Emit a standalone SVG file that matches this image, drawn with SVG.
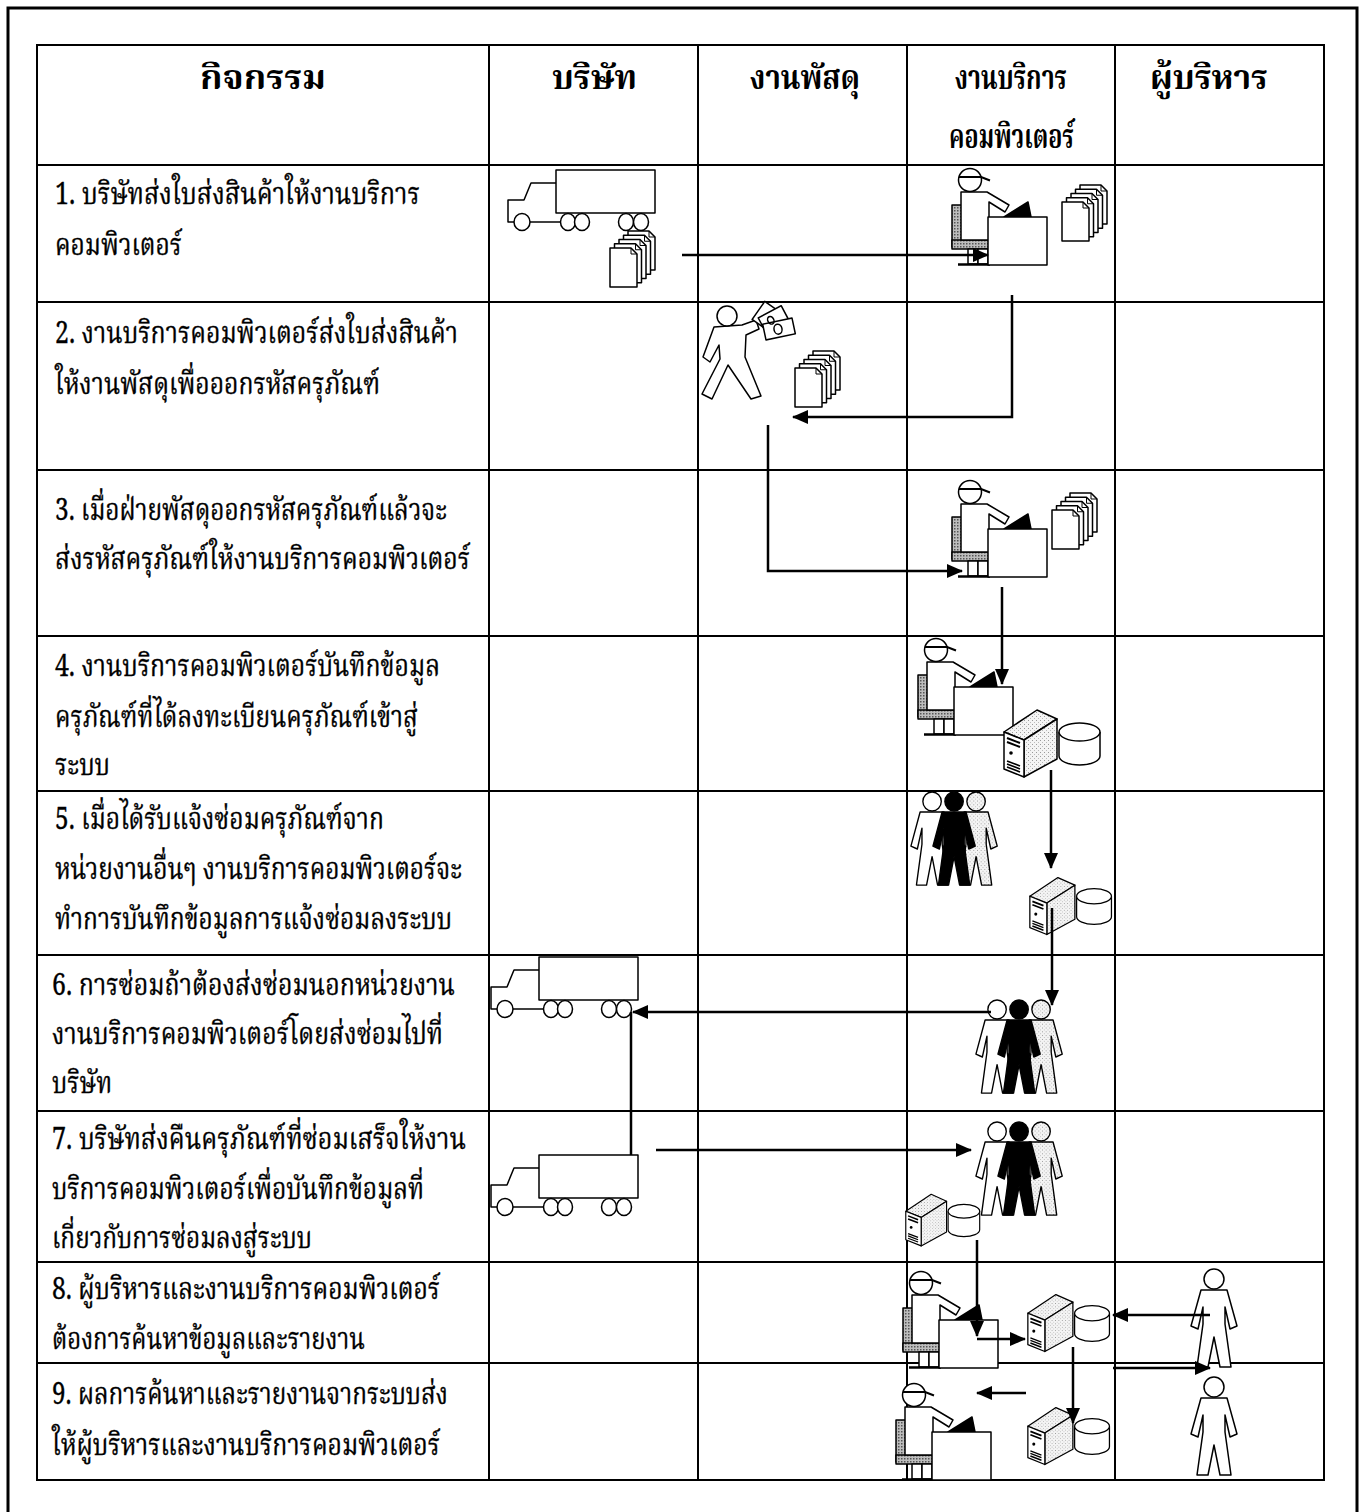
<svg xmlns="http://www.w3.org/2000/svg" xmlns:xlink="http://www.w3.org/1999/xlink" width="1363" height="1512" viewBox="0 0 1363 1512">
  <style>
    .frame { fill: none; stroke: #000; stroke-width: 3; }
    .grid { fill: none; stroke: #000; stroke-width: 2; }
    .hd { font-family: "Noto Serif Thai", "Noto Sans Thai", "Loma", "Garuda", "DejaVu Sans", sans-serif; font-size: 33px; font-weight: bold; fill: #000; }
    .tx { font-family: "Noto Serif Thai", "Noto Sans Thai", "Loma", "Garuda", "DejaVu Serif", serif; font-size: 30px; fill: #000; stroke: #000; stroke-width: 0.35; }
    .ln { fill: none; stroke: #000; stroke-width: 2.5; }
    .ic { stroke: #000; stroke-width: 1.5; stroke-linejoin: round; }
  </style>
  <defs>
    <pattern id="chair" width="3" height="3" patternUnits="userSpaceOnUse">
      <rect width="3" height="3" fill="#bdbdbd"/>
      <rect width="1.5" height="1.5" fill="#555"/>
    </pattern>
    <pattern id="stip" width="4" height="4" patternUnits="userSpaceOnUse">
      <rect width="4" height="4" fill="#f4f4f4"/>
      <rect x="1" y="1" width="1" height="1" fill="#999"/>
      <rect x="3" y="3" width="1" height="1" fill="#bbb"/>
    </pattern>
    <marker id="ah" viewBox="0 0 16 14" refX="15" refY="7" markerWidth="16" markerHeight="14" markerUnits="userSpaceOnUse" orient="auto">
      <path d="M0,0 L16,7 L0,14 Z" fill="#000"/>
    </marker>

    <!-- delivery truck, 150 x 60 -->
    <g id="truck" class="ic" fill="#fff">
      <rect x="49" y="0" width="99" height="43"/>
      <path d="M49,13 H24 L17,30 H1 V52 H8" fill="none"/>
      <path d="M22,52 H54" fill="none"/>
      <ellipse cx="15" cy="52" rx="8" ry="8.5"/>
      <ellipse cx="61" cy="52" rx="7.5" ry="8.5"/>
      <ellipse cx="75" cy="52" rx="7.5" ry="8.5"/>
      <ellipse cx="119" cy="52" rx="7.5" ry="8.5"/>
      <ellipse cx="134" cy="52" rx="7.5" ry="8.5"/>
    </g>

    <!-- single sheet with folded corner -->
    <g id="page" class="ic" fill="#fff">
      <path d="M0,0 H21 L27,6 V39 H0 Z"/>
      <path d="M21,0 V6 H27" fill="none" stroke-width="1"/>
    </g>
    <!-- stack of five sheets -->
    <g id="docs">
      <use xlink:href="#page" transform="translate(18,0)"/>
      <use xlink:href="#page" transform="translate(13.5,4.25)"/>
      <use xlink:href="#page" transform="translate(9,8.5)"/>
      <use xlink:href="#page" transform="translate(4.5,12.75)"/>
      <use xlink:href="#page" transform="translate(0,17)"/>
    </g>

    <!-- operator seated at a computer desk, 100 x 98 -->
    <g id="clerk" class="ic">
      <rect x="4" y="37" width="10" height="42" fill="url(#chair)"/>
      <rect x="4" y="72" width="38" height="9" fill="url(#chair)"/>
      <path d="M13,24 H39 L61,37 L57,44 L41,34 V72 H13 Z" fill="#fff"/>
      <rect x="20" y="81" width="10" height="15" fill="#fff"/>
      <rect x="30" y="81" width="10" height="15" fill="#fff"/>
      <path d="M10,96.5 H42" fill="none" stroke-width="2.5"/>
      <circle cx="22" cy="12" r="11.5" fill="#fff"/>
      <path d="M11,9 H33 L42,12.5" fill="none" stroke-width="2"/>
      <path d="M56,49 L80,34 L83,49 Z" fill="#000"/>
      <rect x="40" y="49" width="59" height="48" fill="#fff"/>
    </g>

    <!-- walking man holding banknotes -->
    <g id="walker" class="ic">
      <path d="M14,22 L42,20 L56,15 L59,24 L46,30 L45,52 L61,91 L51,94 L28,60 L12,94 L2,89 L20,54 L19,40 L10,57 L3,52 Z" fill="#fff"/>
      <circle cx="27" cy="11" r="10" fill="#fff"/>
      <rect x="54" y="2" width="22" height="16" fill="#fff" transform="rotate(-55 65 10)"/>
      <rect x="60" y="6" width="26" height="15" fill="#fff" transform="rotate(-28 73 13)"/>
      <rect x="64" y="16" width="30" height="16" fill="#fff" transform="rotate(-12 79 24)"/>
      <ellipse cx="78" cy="24" rx="4" ry="5" fill="none" transform="rotate(-12 79 24)"/>
      <ellipse cx="70" cy="14" rx="3" ry="4" fill="none" transform="rotate(-28 73 13)"/>
    </g>

    <!-- tower server beside a database cylinder, 98 x 70 -->
    <g id="server" class="ic">
      <path d="M1,25 L34,3 L54,12 L21,33 Z" fill="url(#stip)"/>
      <path d="M21,33 L54,12 V52 L21,70 Z" fill="url(#stip)"/>
      <path d="M1,25 L21,33 V70 L1,62 Z" fill="#fff"/>
      <path d="M4,31 L17,36 M4,35 L17,40" fill="none" stroke-width="2"/>
      <circle cx="8" cy="46" r="1.8" fill="#000" stroke="none"/>
      <path d="M4,54 L17,59 M4,57 L17,62 M4,60 L17,65" fill="none" stroke-width="1.6"/>
      <path d="M56,25 V49 A20.5,9 0 0 0 97,49 V25" fill="#fff"/>
      <ellipse cx="76.5" cy="25" rx="20.5" ry="9" fill="#fff"/>
    </g>

    <!-- standing figure, 48 x 98 -->
    <path id="body" d="M11,21 H37 L47,57 L40,60 L35,38 L35,55 L41,98 L30,98 L24,68 L18,98 L7,98 L13,55 L13,38 L8,60 L1,57 Z"/>
    <g id="person" class="ic" fill="#fff">
      <use xlink:href="#body"/>
      <circle cx="24" cy="10" r="10"/>
    </g>

    <!-- group of three people, the middle one dark -->
    <g id="crowd" class="ic">
      <g transform="translate(0,0) scale(0.92,0.95)" fill="#fff">
        <use xlink:href="#body"/><circle cx="24" cy="10" r="10"/>
      </g>
      <g transform="translate(44,0) scale(0.92,0.95)" fill="url(#stip)">
        <use xlink:href="#body"/><circle cx="24" cy="10" r="10"/>
      </g>
      <g transform="translate(22,0) scale(0.92,0.95)" fill="#000">
        <use xlink:href="#body"/><circle cx="24" cy="10" r="10"/>
      </g>
    </g>
  </defs>

  <rect width="1363" height="1512" fill="#fff"/>

  <!-- page frame -->
  <path class="frame" d="M8,1514 V8 H1357 V1514"/>

  <!-- table -->
  <g id="table">
    <rect class="grid" x="37" y="45" width="1287" height="1435"/>
    <path class="grid" d="M489,45 V1480 M698,45 V1480 M907,45 V1480 M1115,45 V1480"/>
    <path class="grid" d="M37,165 H1324 M37,302 H1324 M37,470 H1324 M37,636 H1324 M37,791 H1324 M37,955 H1324 M37,1111 H1324 M37,1262 H1324 M37,1363 H1324"/>
  </g>

  <!-- column headings -->
  <g id="headings">
    <text class="hd" x="200" y="89" textLength="126" lengthAdjust="spacingAndGlyphs">กิจกรรม</text>
    <text class="hd" x="552" y="89" textLength="85" lengthAdjust="spacingAndGlyphs">บริษัท</text>
    <text class="hd" x="750" y="89" textLength="110" lengthAdjust="spacingAndGlyphs">งานพัสดุ</text>
    <text class="hd" x="955" y="89" textLength="112" lengthAdjust="spacingAndGlyphs">งานบริการ</text>
    <text class="hd" x="949" y="148" textLength="125" lengthAdjust="spacingAndGlyphs">คอมพิวเตอร์</text>
    <text class="hd" x="1150" y="89" textLength="118" lengthAdjust="spacingAndGlyphs">ผู้บริหาร</text>
  </g>

  <!-- activity descriptions -->
  <g id="activities">
    <text class="tx" x="55" y="204" textLength="365" lengthAdjust="spacingAndGlyphs">1. บริษัทส่งใบส่งสินค้าให้งานบริการ</text>
    <text class="tx" x="55" y="255" textLength="127" lengthAdjust="spacingAndGlyphs">คอมพิวเตอร์</text>
    <text class="tx" x="55" y="343" textLength="403" lengthAdjust="spacingAndGlyphs">2. งานบริการคอมพิวเตอร์ส่งใบส่งสินค้า</text>
    <text class="tx" x="55" y="394" textLength="325" lengthAdjust="spacingAndGlyphs">ให้งานพัสดุเพื่อออกรหัสครุภัณฑ์</text>
    <text class="tx" x="55" y="520" textLength="392" lengthAdjust="spacingAndGlyphs">3. เมื่อฝ่ายพัสดุออกรหัสครุภัณฑ์แล้วจะ</text>
    <text class="tx" x="55" y="569" textLength="415" lengthAdjust="spacingAndGlyphs">ส่งรหัสครุภัณฑ์ให้งานบริการคอมพิวเตอร์</text>
    <text class="tx" x="55" y="676" textLength="385" lengthAdjust="spacingAndGlyphs">4. งานบริการคอมพิวเตอร์บันทึกข้อมูล</text>
    <text class="tx" x="55" y="727" textLength="363" lengthAdjust="spacingAndGlyphs">ครุภัณฑ์ที่ได้ลงทะเบียนครุภัณฑ์เข้าสู่</text>
    <text class="tx" x="55" y="775" textLength="55" lengthAdjust="spacingAndGlyphs">ระบบ</text>
    <text class="tx" x="55" y="829" textLength="329" lengthAdjust="spacingAndGlyphs">5. เมื่อได้รับแจ้งซ่อมครุภัณฑ์จาก</text>
    <text class="tx" x="55" y="879" textLength="407" lengthAdjust="spacingAndGlyphs">หน่วยงานอื่นๆ งานบริการคอมพิวเตอร์จะ</text>
    <text class="tx" x="55" y="929" textLength="397" lengthAdjust="spacingAndGlyphs">ทำการบันทึกข้อมูลการแจ้งซ่อมลงระบบ</text>
    <text class="tx" x="52" y="995" textLength="403" lengthAdjust="spacingAndGlyphs">6. การซ่อมถ้าต้องส่งซ่อมนอกหน่วยงาน</text>
    <text class="tx" x="52" y="1044" textLength="391" lengthAdjust="spacingAndGlyphs">งานบริการคอมพิวเตอร์โดยส่งซ่อมไปที่</text>
    <text class="tx" x="52" y="1093" textLength="60" lengthAdjust="spacingAndGlyphs">บริษัท</text>
    <text class="tx" x="52" y="1149" textLength="414" lengthAdjust="spacingAndGlyphs">7. บริษัทส่งคืนครุภัณฑ์ที่ซ่อมเสร็จให้งาน</text>
    <text class="tx" x="52" y="1199" textLength="372" lengthAdjust="spacingAndGlyphs">บริการคอมพิวเตอร์เพื่อบันทึกข้อมูลที่</text>
    <text class="tx" x="52" y="1248" textLength="260" lengthAdjust="spacingAndGlyphs">เกี่ยวกับการซ่อมลงสู่ระบบ</text>
    <text class="tx" x="52" y="1299" textLength="388" lengthAdjust="spacingAndGlyphs">8. ผู้บริหารและงานบริการคอมพิวเตอร์</text>
    <text class="tx" x="52" y="1349" textLength="313" lengthAdjust="spacingAndGlyphs">ต้องการค้นหาข้อมูลและรายงาน</text>
    <text class="tx" x="52" y="1404" textLength="396" lengthAdjust="spacingAndGlyphs">9. ผลการค้นหาและรายงานจากระบบส่ง</text>
    <text class="tx" x="52" y="1455" textLength="388" lengthAdjust="spacingAndGlyphs">ให้ผู้บริหารและงานบริการคอมพิวเตอร์</text>
  </g>

  <!-- row 1 -->
  <g id="r1-truck"><use xlink:href="#truck" transform="translate(507,170)"/></g>
  <g id="r1-docs"><use xlink:href="#docs" transform="translate(610,231)"/></g>
  <g id="r1-clerk"><use xlink:href="#clerk" transform="translate(948,168)"/></g>
  <g id="r1-clerk-docs"><use xlink:href="#docs" transform="translate(1062,185)"/></g>

  <!-- row 2 -->
  <g id="r2-walker"><use xlink:href="#walker" transform="translate(700,305)"/></g>
  <g id="r2-docs"><use xlink:href="#docs" transform="translate(795,351)"/></g>

  <!-- row 3 -->
  <g id="r3-clerk"><use xlink:href="#clerk" transform="translate(948,480)"/></g>
  <g id="r3-docs"><use xlink:href="#docs" transform="translate(1052,493)"/></g>

  <!-- row 4 -->
  <g id="r4-clerk"><use xlink:href="#clerk" transform="translate(914,638)"/></g>
  <g id="r4-server"><use xlink:href="#server" transform="translate(1003,707)"/></g>

  <!-- row 5 -->
  <g id="r5-crowd"><use xlink:href="#crowd" transform="translate(910,792)"/></g>
  <g id="r5-server"><use xlink:href="#server" transform="translate(1029,875) scale(0.85)"/></g>

  <!-- row 6 -->
  <g id="r6-truck"><use xlink:href="#truck" transform="translate(490,957)"/></g>
  <g id="r6-crowd"><use xlink:href="#crowd" transform="translate(975,1000)"/></g>

  <!-- row 7 -->
  <g id="r7-truck"><use xlink:href="#truck" transform="translate(490,1155)"/></g>
  <g id="r7-crowd"><use xlink:href="#crowd" transform="translate(975,1122)"/></g>
  <g id="r7-server"><use xlink:href="#server" transform="translate(905,1192) scale(0.77)"/></g>

  <!-- row 8 -->
  <g id="r8-clerk"><use xlink:href="#clerk" transform="translate(899,1271)"/></g>
  <g id="r8-server"><use xlink:href="#server" transform="translate(1027,1292) scale(0.85)"/></g>
  <g id="r8-exec"><use xlink:href="#person" transform="translate(1190,1269)"/></g>

  <!-- row 9 -->
  <g id="r9-clerk"><use xlink:href="#clerk" transform="translate(892,1383)"/></g>
  <g id="r9-server"><use xlink:href="#server" transform="translate(1027,1405) scale(0.85)"/></g>
  <g id="r9-exec"><use xlink:href="#person" transform="translate(1190,1377)"/></g>

  <!-- flow connectors -->
  <g id="connectors">
    <path class="ln" d="M682,255 H988" marker-end="url(#ah)"/>
    <path class="ln" d="M1012,295 V417 H793" marker-end="url(#ah)"/>
    <path class="ln" d="M768,425 V571 H962" marker-end="url(#ah)"/>
    <path class="ln" d="M1002,587 V684" marker-end="url(#ah)"/>
    <path class="ln" d="M1051,770 V868" marker-end="url(#ah)"/>
    <path class="ln" d="M1052,908 V1005" marker-end="url(#ah)"/>
    <path class="ln" d="M991,1012 H633" marker-end="url(#ah)"/>
    <path class="ln" d="M631,1155 V1012"/>
    <path class="ln" d="M656,1150 H971" marker-end="url(#ah)"/>
    <path class="ln" d="M977,1240 V1336" marker-end="url(#ah)"/>
    <path class="ln" d="M977,1339 H1025" marker-end="url(#ah)"/>
    <path class="ln" d="M1210,1315 H1113" marker-end="url(#ah)"/>
    <path class="ln" d="M1073,1347 V1423" marker-end="url(#ah)"/>
    <path class="ln" d="M1113,1368 H1210" marker-end="url(#ah)"/>
    <path class="ln" d="M1026,1393 H977" marker-end="url(#ah)"/>
  </g>
</svg>
